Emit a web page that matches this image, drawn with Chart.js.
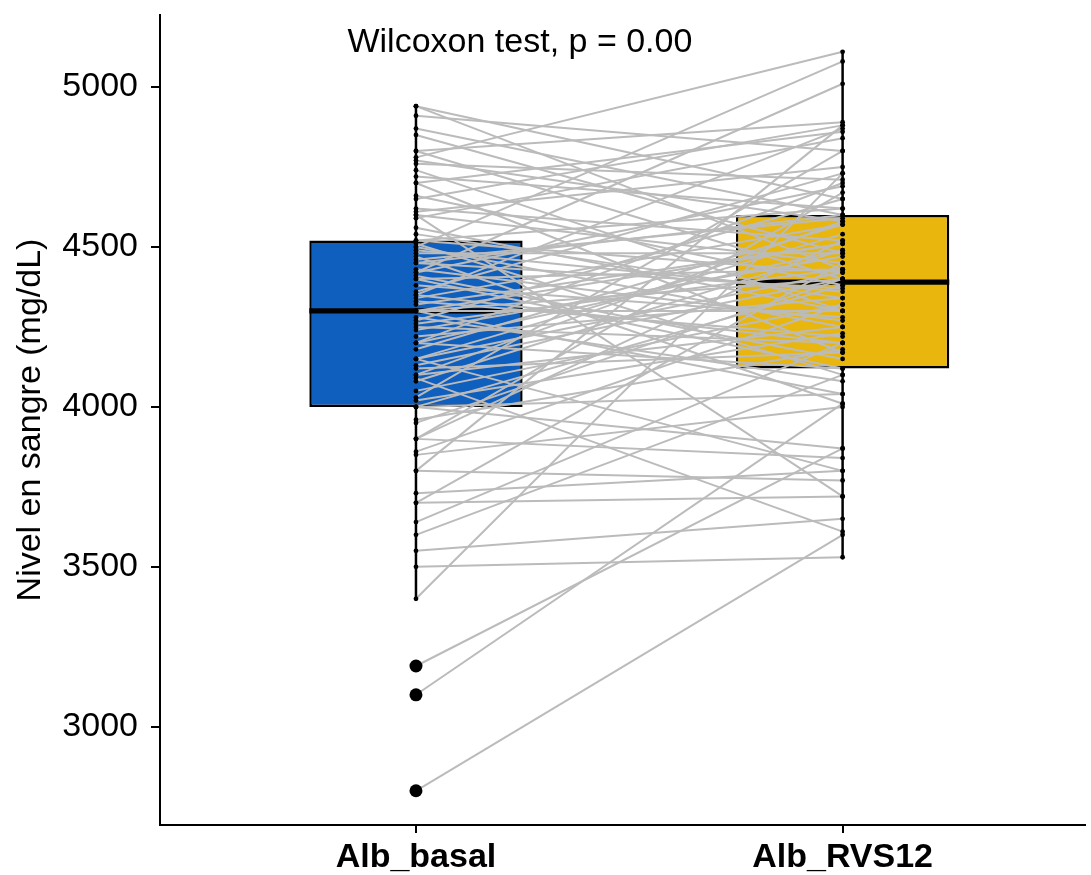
<!DOCTYPE html>
<html><head><meta charset="utf-8">
<script src="https://cdn.jsdelivr.net/npm/chart.js@4.4.1/dist/chart.umd.min.js"></script>
<style>html,body{margin:0;padding:0;background:#fff;overflow:hidden}#wrap{width:1091px;height:875px;position:relative}</style>
</head><body><div id="wrap"><canvas id="c" width="1091" height="875"></canvas></div>
<script>
const categories = ['Alb_basal', 'Alb_RVS12'];
const basal = [2800,3100,3190,3400,3500,3550,3600,3640,3700,3700,
  3730,3800,3800,3860,3900,3900,3900,4000,4000,4030,
  4090,4100,4100,4120,4150,4150,4200,4200,4220,4270,
  4280,4300,4300,4300,4330,4340,4350,4350,4400,4400,
  4420,4430,4450,4450,4470,4480,4500,4500,4520,4520,
  4540,4590,4600,4600,4610,4620,4660,4700,4700,4740,
  4760,4770,4780,4800,4800,4850,4870,4910,4940,4940,
  4050,4080,4130,4180,4250,4260,4320,4380,4410,4460,
  4490,4510,3950,4020,4240,4560,4650,4720,3850,4000,
  4200,4300,4420,4150,4360,3960];
const rvs12 = [3600,4010,3870,4730,3530,3650,4100,4200,3720,4450,
  3800,4880,3770,4320,3840,4520,4670,4040,4380,4800,
  3610,4250,4580,4170,4420,3800,4490,4120,4340,4650,
  4080,4400,4300,4510,4220,4570,4870,4200,4430,4120,
  4690,4270,4370,4600,4010,4480,5080,4250,4620,4420,
  4340,4840,4450,3720,4750,4520,4380,4860,4170,4300,
  4710,4580,5110,4400,4890,4480,4600,4800,4430,4650,
  4320,4490,4400,4570,4200,4430,4510,4280,4150,4590,
  4360,4100,4400,4230,4470,4300,4880,4620,4000,3870,
  4700,4040,5010,4540,4730,4180];
const boxQ1 = [4000, 4120];
const boxMedian = [4300, 4390];
const boxQ3 = [4520, 4600];
const whiskerLow = [3400, 3530];
const whiskerHigh = [4940, 5110];
const outliersBasal = [3190, 3100, 2800];
const yTicks = [3000, 3500, 4000, 4500, 5000];
const boxColors = ['#0F5FBF', '#E8B60C'];
const testLabel = 'Wilcoxon test, p = 0.00';
const testLabelX = 1.2436;
const testLabelY = 5140;

const FONT = '"Liberation Sans", Arial, Helvetica, sans-serif';
const pos = categories.map((c, i) => i + 1);

const datasets = [];
datasets.push({
  type: 'bar', data: pos.map((p, i) => ({x: p, y: [boxQ1[i], boxQ3[i]]})),
  backgroundColor: boxColors, borderColor: '#000', borderWidth: 2.5, borderSkipped: false,
  grouped: false, barPercentage: 0.5, categoryPercentage: 1, order: 10
});
datasets.push({
  type: 'bar', data: pos.map((p, i) => ({x: p, y: [boxMedian[i] - 8, boxMedian[i] + 8]})),
  backgroundColor: '#000', borderWidth: 0, grouped: false, barPercentage: 0.5, categoryPercentage: 1, order: 9
});
basal.forEach((b, i) => {
  datasets.push({
    type: 'line', data: [{x: 1, y: b}, {x: 2, y: rvs12[i]}],
    borderColor: '#BBBBBB', borderWidth: 2, pointRadius: 0, fill: false, order: 5
  });
});
pos.forEach((p, i) => {
  datasets.push({type: 'line', data: [{x: p, y: whiskerLow[i]}, {x: p, y: boxQ1[i]}],
    borderColor: '#000', borderWidth: 2.5, pointRadius: 0, order: 3});
  datasets.push({type: 'line', data: [{x: p, y: boxQ3[i]}, {x: p, y: whiskerHigh[i]}],
    borderColor: '#000', borderWidth: 2.5, pointRadius: 0, order: 3});
});
datasets.push({
  type: 'scatter',
  data: basal.map(v => ({x: 1, y: v})).concat(rvs12.map(v => ({x: 2, y: v}))),
  backgroundColor: '#000', borderWidth: 0, pointRadius: 2.4, order: 2
});
datasets.push({
  type: 'scatter', data: outliersBasal.map(v => ({x: 1, y: v})),
  backgroundColor: '#000', borderWidth: 0, pointRadius: 6.5, order: 1
});

const annot = {
  id: 'annot',
  afterDatasetsDraw(chart) {
    const {ctx, scales} = chart;
    ctx.save();
    ctx.font = '34px ' + FONT;
    ctx.fillStyle = '#000';
    ctx.textAlign = 'center';
    ctx.textBaseline = 'middle';
    ctx.fillText(testLabel, scales.x.getPixelForValue(testLabelX), scales.y.getPixelForValue(testLabelY));
    ctx.restore();
  }
};

new Chart(document.getElementById('c'), {
  type: 'bar',
  data: {datasets},
  plugins: [annot],
  options: {
    responsive: false, animation: false, devicePixelRatio: 1,
    layout: {padding: {top: 15, right: 6, left: 0, bottom: 0}},
    plugins: {legend: {display: false}, tooltip: {enabled: false}},
    scales: {
      x: {
        type: 'linear', min: 0.4, max: 2.567, offset: false,
        afterBuildTicks: s => { s.ticks = pos.map(v => ({value: v})); },
        ticks: {callback: v => categories[Math.round(v) - 1], font: {family: FONT, size: 34, weight: 'bold'},
          color: '#000', padding: 4, autoSkip: false, maxRotation: 0},
        grid: {offset: false, drawOnChartArea: false, drawTicks: true, tickLength: 8, color: '#000', lineWidth: 2},
        border: {display: true, color: '#000', width: 2},
        afterFit: s => { s.height = 50; s.paddingLeft = 0; s.paddingRight = 0; }
      },
      y: {
        type: 'linear', min: 2693, max: 5225,
        afterBuildTicks: s => { s.ticks = yTicks.map(v => ({value: v})); },
        ticks: {callback: v => String(v), font: {family: FONT, size: 34}, color: '#000', padding: 13},
        grid: {drawOnChartArea: false, drawTicks: true, tickLength: 9, color: '#000', lineWidth: 2},
        border: {display: true, color: '#000', width: 2},
        title: {display: true, text: 'Nivel en sangre (mg/dL)', font: {family: FONT, size: 34}, color: '#000', padding: {top: 10, bottom: 0}},
        afterFit: s => { s.width = 160; s.paddingTop = 0; s.paddingBottom = 0; }
      }
    }
  }
});
</script></body></html>
